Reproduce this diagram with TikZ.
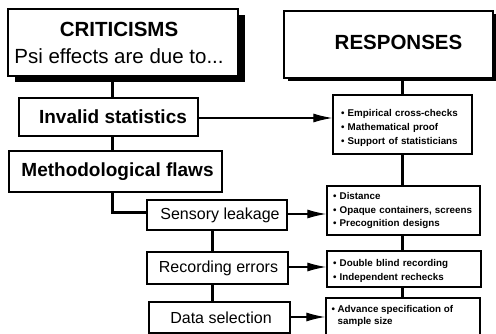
\documentclass[tikz,border=0pt]{standalone}
\usepackage{fontspec}
\setmainfont{Liberation Sans}
\usetikzlibrary{arrows.meta,shadows}
\begin{document}
\begin{tikzpicture}[x=1pt,y=-1pt,
  box/.style={draw, line width=1.4pt, fill=white, inner sep=0pt, align=center},
  bigshadow/.style={drop shadow={shadow xshift=7pt, shadow yshift=-6pt, fill=black, opacity=1}},
  smallshadow/.style={drop shadow={shadow xshift=3.5pt, shadow yshift=-3.5pt, fill=black, opacity=1}},
  critfont/.style={font=\bfseries\fontsize{20.5}{27}\selectfont},
  midfont/.style={font=\bfseries\fontsize{19}{22}\selectfont},
  smallfont/.style={font=\fontsize{16}{19}\selectfont},
  rbox/.style={draw, line width=1.4pt, fill=white, inner ysep=0pt, inner xsep=6pt, align=left,
    font=\bfseries\fontsize{9.8}{13.8}\selectfont},
  rtext/.style={inner sep=0pt, align=left, font=\bfseries\fontsize{9.8}{11.8}\selectfont},
  conn/.style={line width=3pt},
  arr/.style={line width=1.3pt, -{Latex[length=19pt,width=9pt]}},
]
\useasboundingbox (0,0) rectangle (496,334);
% left column
\node[box, bigshadow, critfont, minimum width=230pt, minimum height=67pt] (crit) at (123,42.5)
  {CRITICISMS\hspace{8pt}\mbox{}\\{\mdseries Psi effects are due to...}\hspace{8pt}\mbox{}};
\node[box, smallshadow, critfont, minimum width=209pt, minimum height=67pt] (resp) at (388.5,44.5)
  {\hspace{20pt}\raisebox{4pt}{RESPONSES}};
\node[box, midfont, minimum width=179pt, minimum height=38pt] (inv) at (108.5,117) {\hspace{9pt}Invalid statistics};
\node[box, midfont, minimum width=213pt, minimum height=41pt] (meth) at (115.5,171.5) {\hspace{4pt}Methodological flaws};
\node[box, smallfont, minimum width=140pt, minimum height=30pt] (sens) at (217,215) {Sensory leakage\hspace{-6pt}\mbox{}};
\node[box, smallfont, minimum width=141pt, minimum height=32pt] (rec) at (217.5,268) {Recording errors\hspace{-2pt}\mbox{}};
\node[box, smallfont, minimum width=141pt, minimum height=31pt] (data) at (219.5,317.5) {\hspace{3pt}Data selection};
% right column
\node[rbox, inner xsep=8pt, text width=123pt, minimum height=59pt] (r1) at (402.5,124.5)
  {\rule{0pt}{14pt}• Empirical cross-checks\\• Mathematical proof\\• Support of statisticians};
\node[rbox, text width=141pt, minimum height=49pt] (r2) at (403.5,210.5)
  {• Distance\\• Opaque containers, screens\\• Precognition designs};
\node[rbox, text width=142pt, minimum height=36pt] (r3) at (404,269)
  {\rule{0pt}{11pt}• Double blind recording\\• Independent rechecks};
\node[rbox, text width=142pt, minimum height=42pt] (r4) at (403,319) {};
\node[rtext, anchor=north west] (r4t) at ([xshift=6pt,yshift=-8pt]r4.north west)
  {• Advance specification of\\\hphantom{• }sample size};
% connector guide coordinates
\coordinate (lx) at (112,0);
\coordinate (mx) at (212,0);
\coordinate (rx) at (402,0);
% connectors
\draw[conn] (crit.south -| lx) -- (inv.north -| lx);
\draw[conn] (inv.south -| lx) -- (meth.north -| lx);
\draw[conn] (meth.south -| lx) |- ([yshift=2pt]sens.west);
\draw[conn] (sens.south -| mx) -- (rec.north -| mx);
\draw[conn] (rec.south -| mx) -- (data.north -| mx);
\draw[conn] (resp.south -| rx) -- (r1.north -| rx);
\draw[conn] (r1.south -| rx) -- (r2.north -| rx);
\draw[conn] (r2.south -| rx) -- (r3.north -| rx);
\draw[conn] (r3.south -| rx) -- (r4.north -| rx);
% arrows
\draw[arr, line width=1.1pt] (inv.east) ++(0,1) coordinate (ia) -- (ia -| r1.west);
\draw[arr] (sens.east) ++(0,-1) coordinate (sa) -- (sa -| r2.west);
\draw[arr] (rec.east) ++(0,-1) coordinate (ra) -- (ra -| r3.west);
\draw[arr] (data.east) ++(0,-0.5) coordinate (da) -- (da -| r4.west);
\end{tikzpicture}
\end{document}
